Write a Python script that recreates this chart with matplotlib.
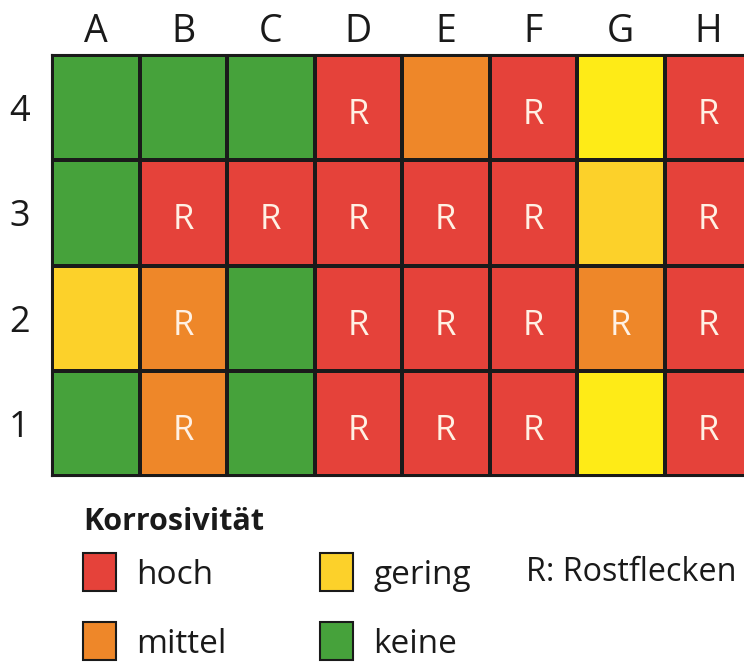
import matplotlib
matplotlib.use("Agg")
import matplotlib.pyplot as plt
import numpy as np
from matplotlib.colors import ListedColormap
from matplotlib.patches import Rectangle

plt.rcParams['font.family'] = ['Open Sans', 'DejaVu Sans']

# ---- data ----
columns = ["A", "B", "C", "D", "E", "F", "G", "H"]
rows = ["1", "2", "3", "4"]
# level codes: 0 = keine, 1 = gering, 2 = gering (hell), 3 = mittel, 4 = hoch
row_1 = [0, 3, 0, 4, 4, 4, 2, 4]
row_2 = [1, 3, 0, 4, 4, 4, 3, 4]
row_3 = [0, 4, 4, 4, 4, 4, 1, 4]
row_4 = [0, 0, 0, 4, 3, 4, 2, 4]
rust_1 = [0, 1, 0, 1, 1, 1, 0, 1]
rust_2 = [0, 1, 0, 1, 1, 1, 1, 1]
rust_3 = [0, 1, 1, 1, 1, 1, 0, 1]
rust_4 = [0, 0, 0, 1, 0, 1, 0, 1]
level_colors = ["#46A23B", "#FCD12A", "#FEEB17", "#EE8729", "#E5423A"]
legend_labels = ["hoch", "mittel", "gering", "keine"]
legend_codes = [4, 3, 1, 0]
legend_title = "Korrosivität"
rust_note = "R: Rostflecken"

levels = np.array([row_1, row_2, row_3, row_4])
rust = np.array([rust_1, rust_2, rust_3, rust_4])

W, H = 744, 662
fig = plt.figure(figsize=(W / 100, H / 100), dpi=100)

def fx(px):
    return px / W

def fy(py):
    return 1 - py / H

left, right, top, bottom = 52, 744, 55, 476
ax = fig.add_axes([fx(left), fy(bottom), fx(right - left), (bottom - top) / H])

cmap = ListedColormap(level_colors)
ax.pcolormesh(np.arange(len(columns) + 1), np.arange(len(rows) + 1), levels,
              cmap=cmap, vmin=-0.5, vmax=len(level_colors) - 0.5,
              edgecolors="#1a1a1a", linewidth=1.5)

col_w = 87.5
ax.set_xlim(0, (right - left) / col_w)
ax.set_ylim(0, len(rows))

for r in range(len(rows)):
    for c in range(len(columns)):
        if rust[r, c]:
            ax.text(c + 0.5, r + 0.5 - 0.157, "R", ha="center", va="baseline",
                    fontsize=25, color="#FFF1E4")

ax.set_xticks(np.arange(len(columns)) + 0.5)
ax.set_xticklabels(columns)
ax.set_yticks(np.arange(len(rows)) + 0.5)
ax.set_yticklabels(rows)
ax.tick_params(axis="x", top=True, labeltop=True, bottom=False, labelbottom=False,
               length=0, pad=9.4, labelsize=27, labelcolor="#1a1a1a")
for lab in ax.get_xticklabels():
    lab.set_va("baseline")
ax.tick_params(axis="y", length=0, pad=16, labelsize=26, labelcolor="#1a1a1a")
for s in ["left", "bottom", "top"]:
    ax.spines[s].set_linewidth(1.5)
    ax.spines[s].set_color("#1a1a1a")
ax.spines["right"].set_visible(False)

# ---- legend ----
fig.text(fx(83), fy(530), legend_title, fontsize=22, fontweight="bold",
         color="#1a1a1a", ha="left", va="baseline")

positions = [(83, 584), (83, 653), (320, 584), (320, 653)]
for (px, py), lab, code in zip(positions, legend_labels, legend_codes):
    fig.add_artist(Rectangle((fx(px), fy(py + 7)), fx(33), 38 / H,
                             transform=fig.transFigure, facecolor=level_colors[code],
                             edgecolor="#1a1a1a", linewidth=1.5))
    fig.text(fx(px + 53), fy(py), lab, fontsize=24, color="#1a1a1a",
             ha="left", va="baseline")

fig.text(fx(526), fy(581), rust_note, fontsize=23.3, color="#1a1a1a",
         ha="left", va="baseline")

fig.savefig("out.png", dpi=100)
